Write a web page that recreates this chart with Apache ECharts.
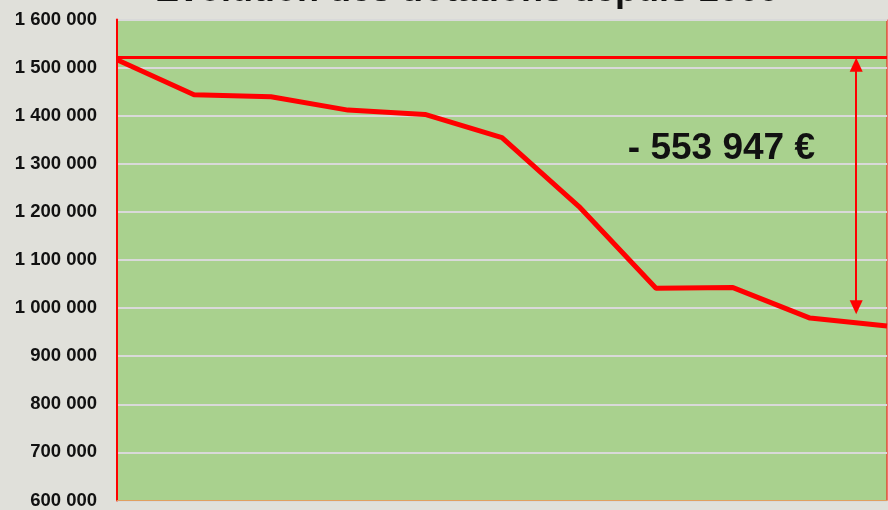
<!DOCTYPE html>
<html>
<head>
    <meta charset="UTF-8">
    <title>Évolution des dotations depuis 2009</title>
    <script src="https://cdn.jsdelivr.net/npm/echarts@6/dist/echarts.min.js"></script>
    <style>
        html, body { margin: 0; padding: 0; background: #e0e0da; }
        #chart { width: 888px; height: 510px; }
    </style>
</head>
<body>
    <div id="chart"></div>
    <script>
        const years = [2009, 2010, 2011, 2012, 2013, 2014, 2015, 2016, 2017, 2018, 2019];
        const dotations = [1516500, 1443500, 1439300, 1411600, 1402700, 1354500, 1211200, 1041400, 1042600, 979300, 962700];
        const referenceLevel = 1522000;
        const arrowYear = 2018.6;
        const arrowFrom = 1506000;
        const arrowTo = 1002000;
        const diffLabel = '- 553 947 €';
        const diffPos = [2016.85, 1332000];

        const chart = echarts.init(document.getElementById('chart'));

        function spaced(v) {
            return String(v).replace(/\B(?=(\d{3})+(?!\d))/g, ' ');
        }

        const option = {
            backgroundColor: '#e0e0da',
            animation: false,
            graphic: [{
                type: 'text',
                style: {
                    text: 'Évolution des dotations depuis 2009',
                    x: 467, y: -9,
                    textAlign: 'center',
                    textVerticalAlign: 'middle',
                    font: 'bold 36px "Liberation Sans"',
                    fill: '#111'
                }
            }],
            grid: {
                left: 117, right: 1, top: 19.5, bottom: 7.5,
                show: true,
                backgroundColor: '#a9d18e',
                borderColor: '#ff0000',
                borderWidth: 1
            },
            xAxis: {
                type: 'value',
                min: 2009,
                max: 2019,
                interval: 1,
                axisLine: { show: true, lineStyle: { color: '#e0a060' } },
                axisTick: { show: false },
                axisLabel: { show: false },
                splitLine: { show: false }
            },
            yAxis: {
                type: 'value',
                min: 600000,
                max: 1600000,
                interval: 100000,
                axisLine: { show: true, lineStyle: { color: '#ff0000', width: 2 } },
                axisTick: { show: false },
                axisLabel: {
                    formatter: spaced,
                    margin: 20,
                    color: '#111',
                    fontWeight: 'bold',
                    fontSize: 18.5,
                    fontFamily: 'Liberation Sans'
                },
                splitLine: { lineStyle: { color: '#d9d9d9', width: 2 } }
            },
            series: [{
                type: 'line',
                data: years.map((y, i) => [y, dotations[i]]),
                symbol: 'none',
                lineStyle: { color: '#ff0000', width: 5 },
                markLine: {
                    silent: true,
                    label: { show: false },
                    data: [
                        [{ coord: [2009, referenceLevel], symbol: 'none' },
                         { coord: [2019, referenceLevel], symbol: 'none', lineStyle: { color: '#ff0000', width: 3, type: 'solid' } }],
                        [{ coord: [arrowYear, arrowFrom], symbol: 'triangle', symbolSize: [13, 14] },
                         { coord: [arrowYear, arrowTo], symbol: 'triangle', symbolSize: [13, 14], lineStyle: { color: '#ff0000', width: 2, type: 'solid' } }]
                    ],
                    lineStyle: { color: '#ff0000', type: 'solid' }
                },
                markPoint: {
                    silent: true,
                    symbol: 'circle',
                    symbolSize: 0,
                    itemStyle: { color: 'transparent' },
                    data: [{
                        coord: diffPos,
                        label: {
                            show: true,
                            formatter: diffLabel,
                            position: 'inside',
                            color: '#111',
                            fontWeight: 'bold',
                            fontSize: 37,
                            fontFamily: 'Liberation Sans'
                        }
                    }]
                }
            }]
        };

        chart.setOption(option);
    </script>
</body>
</html>
